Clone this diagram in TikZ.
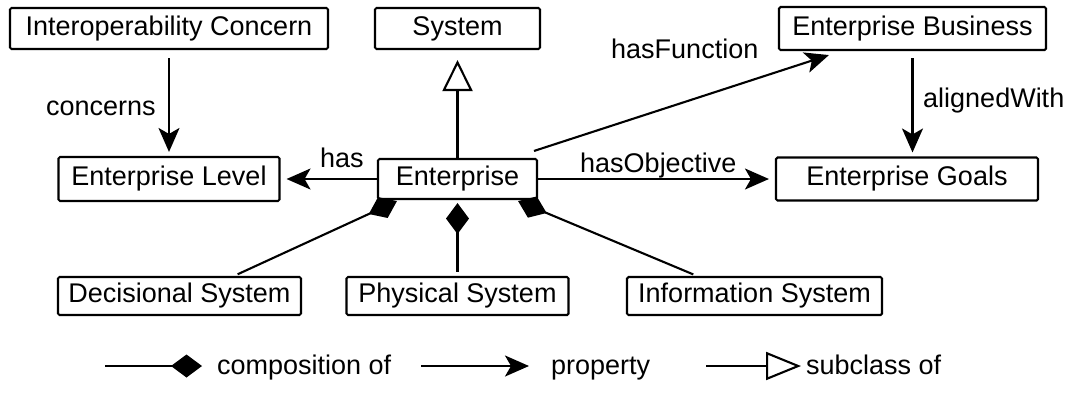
\documentclass[tikz,border=0pt]{standalone}
\usepackage{fontspec}
\setmainfont{Liberation Sans}
\usetikzlibrary{arrows.meta,calc}
\begin{document}
\begin{tikzpicture}[x=1pt,y=-1pt,
  txt/.style={font=\fontsize{27}{32}\selectfont},
  box/.style={txt, draw, line width=2.1pt, rounded corners=1.5pt, inner sep=0pt, minimum height=41pt},
  lbl/.style={txt, inner sep=0pt, anchor=base west},
  conn/.style={line width=2.1pt},
  prop/.style={conn, -{Stealth[length=24pt,width=21pt,inset=6pt]}},
  comp/.style={conn, -{Diamond[length=31pt,width=23pt]}},
  sub/.style={conn, -{Triangle[open,length=31pt,width=30pt]}},
]
\useasboundingbox (0,0) rectangle (1070,392);

% nodes
\node[box, minimum width=318pt] (ic) at (169,28.5) {Interoperability Concern};
\node[box, minimum width=165pt] (sys) at (457.5,28.5) {System};
\node[box, minimum width=267pt, minimum height=43pt] (eb) at (912.5,28.5) {Enterprise Business};
\node[box, minimum width=221pt, minimum height=44pt] (el) at (169,179) {Enterprise Level};
\node[box, minimum width=159pt, minimum height=40pt] (ent) at (457.5,179) {Enterprise};
\node[box, minimum width=262pt, minimum height=43pt] (eg) at (907,179) {Enterprise Goals};
\node[box, minimum width=243pt, minimum height=38pt] (ds) at (179.5,296) {Decisional System};
\node[box, minimum width=222pt, minimum height=38pt] (ps) at (457.5,296) {Physical System};
\node[box, minimum width=255pt, minimum height=38pt] (is) at (754.5,296) {Information System};

% connectors
\draw[prop, shorten <=8pt, shorten >=4pt] (ic.south) -- (el.north);
\draw[prop, shorten >=6pt] (ent.west) -- (el.east);
\draw[prop, shorten >=6pt] (ent.east) -- (eg.west);
\draw[sub, shorten >=10pt] (ent.north) -- (sys.south);
\draw[prop, shorten <=7pt, shorten >=4pt] (eb.south) -- (eb.south |- eg.north);
\draw[prop] ($(ent.north east)+(-4,-7)$) -- ($(eb.south west)+(51,4)$);
\draw[comp, shorten <=4pt] ($(ds.north)+(54.5,0)$) -- ($(ent.south west)+(20,1)$);
\draw[comp, shorten <=4pt, shorten >=3pt] (ps.north) -- (ent.south);
\draw[comp, shorten <=4pt] ($(is.north)+(-57.5,0)$) -- ($(ent.south east)+(-20,1)$);

% labels
\node[lbl] (lconc) at (46,115) {concerns};
\node[lbl] (lhas) at (320,167) {has};
\node[lbl] (lfun) at (611,58) {hasFunction};
\node[lbl] (lobj) at (580,172) {hasObjective};
\node[lbl] (lali) at (923,107) {alignedWith};

% legend
\coordinate (c1) at (105,366);
\coordinate (c2) at (202,366);
\coordinate (p1) at (421,366);
\coordinate (p2) at (529,366);
\coordinate (s1) at (706,366);
\coordinate (s2) at (801,366);
\draw[comp] (c1) -- (c2);
\draw[prop] (p1) -- (p2);
\draw[conn, -{Triangle[open,length=35pt,width=28pt]}] (s1) -- (s2);
\node[lbl] (lcomp) at (217,374) {composition of};
\node[lbl] (lprop) at (551,374) {property};
\node[lbl] (lsub) at (806,374) {subclass of};
\end{tikzpicture}
\end{document}
